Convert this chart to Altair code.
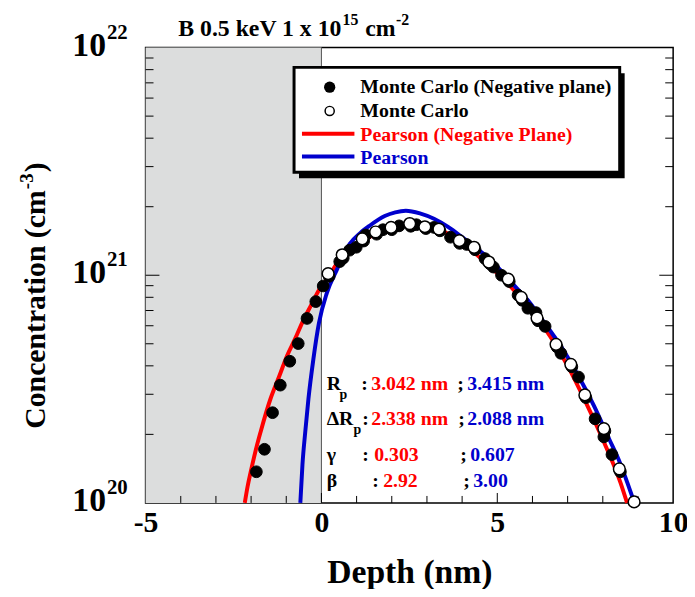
import altair as alt
import pandas as pd

# ---------------- data ----------------
mc_neg_depth = [-1.85, -1.62, -1.39, -1.17, -0.90, -0.66, -0.41, -0.16, 0.05, 0.22,
                0.52, 0.62, 0.80, 0.99, 1.20, 1.26, 1.57, 1.75, 2.00, 2.21,
                2.54, 2.70, 2.97, 3.20, 3.37, 3.67, 3.93, 4.13, 4.37, 4.65,
                4.79, 4.89, 5.12, 5.34, 5.59, 5.71, 5.87, 6.10, 6.16, 6.36,
                6.70, 6.81, 7.12, 7.31, 7.52, 7.78, 8.03, 8.06, 8.26, 8.50]
mc_neg_conc = [1.37e20, 1.72e20, 2.49e20, 3.29e20, 4.19e20, 5.01e20, 6.46e20, 7.66e20, 8.97e20, 9.89e20,
               1.148e21, 1.189e21, 1.288e21, 1.327e21, 1.413e21, 1.503e21, 1.514e21, 1.585e21, 1.585e21, 1.648e21,
               1.641e21, 1.667e21, 1.603e21, 1.622e21, 1.567e21, 1.469e21, 1.380e21, 1.365e21, 1.294e21, 1.183e21,
               1.122e21, 1.086e21, 1.000e21, 9.38e20, 8.18e20, 7.76e20, 7.16e20, 6.85e20, 6.31e20, 5.96e20,
               4.84e20, 4.54e20, 3.96e20, 3.57e20, 2.90e20, 2.34e20, 1.95e20, 2.07e20, 1.63e20, 1.37e20]

mc_depth = [0.19, 0.59, 1.16, 1.54, 1.98, 2.51, 2.94, 3.34, 3.92, 4.34,
            4.76, 5.31, 5.68, 6.13, 6.67, 7.09, 7.49, 8.03, 8.47, 8.89]
mc_conc = [1.016e21, 1.230e21, 1.445e21, 1.549e21, 1.622e21, 1.687e21, 1.633e21, 1.596e21, 1.419e21, 1.327e21,
           1.143e21, 9.62e20, 8.00e20, 6.49e20, 4.97e20, 4.06e20, 2.98e20, 2.12e20, 1.41e20, 1.01e20]

pearson_neg_depth = [-2.18, -2.10, -2.01, -1.87, -1.73, -1.45, -1.20, -0.98, -0.75, -0.51,
                     -0.30, -0.07, 0.20, 0.43, 0.70, 1.00, 1.50, 2.00, 2.50, 3.00,
                     3.50, 4.00, 4.50, 5.00, 5.50, 6.00, 6.50, 7.00, 7.50, 8.00, 8.50, 8.69]
pearson_neg_conc = [1.00e20, 1.18e20, 1.37e20, 1.70e20, 2.05e20, 2.86e20, 3.60e20, 4.42e20, 5.25e20, 6.37e20,
                    7.35e20, 8.61e20, 9.80e20, 1.12e21, 1.23e21, 1.35e21, 1.51e21, 1.62e21, 1.68e21, 1.64e21,
                    1.55e21, 1.38e21, 1.20e21, 1.02e21, 8.5e20, 6.9e20, 5.4e20, 4.0e20, 2.8e20, 1.9e20, 1.23e20, 1.00e20]

pearson_depth = [-0.60, -0.54, -0.46, -0.37, -0.23, -0.07, 0.15, 0.43, 0.80, 1.10,
                 1.37, 1.80, 2.10, 2.40, 2.80, 3.20, 3.60, 4.00, 4.50, 4.93,
                 5.40, 5.87, 6.30, 6.81, 7.30, 7.75, 8.20, 8.45, 8.72, 8.90]
pearson_conc = [1.00e20, 1.47e20, 2.05e20, 2.86e20, 4.27e20, 6.17e20, 8.32e20, 1.05e21, 1.37e21, 1.53e21,
                1.65e21, 1.82e21, 1.89e21, 1.92e21, 1.87e21, 1.77e21, 1.63e21, 1.47e21, 1.28e21, 1.12e21,
                9.3e20, 7.76e20, 6.3e20, 4.87e20, 3.63e20, 2.67e20, 1.88e20, 1.55e20, 1.20e20, 1.00e20]

x_label_values = [-5, 0, 5, 10]
x_minor_ticks = [-4, -3, -2, -1, 1, 2, 3, 4, 6, 7, 8, 9]
x_major_ticks = [0, 5]
y_minor_ticks = [2e20, 3e20, 4e20, 5e20, 6e20, 7e20, 8e20, 9e20,
                 2e21, 3e21, 4e21, 5e21, 6e21, 7e21, 8e21, 9e21]
y_major_ticks = [1e21]
y_label_values = [1e20, 1e21, 1e22]
y_label_base = ["10", "10", "10"]
y_label_exp = ["20", "21", "22"]
shaded_region = [-5, 0]

legend_labels = ["Monte Carlo (Negative plane)", "Monte Carlo", "Pearson (Negative Plane)", "Pearson"]

# ---------------- styling ----------------
W, H = 533, 460
FONT = "Liberation Serif"
RED = "#ff0000"
BLUE = "#0000cd"

xs = alt.Scale(domain=[-5, 10], nice=False, zero=False)
ys = alt.Scale(type="log", domain=[1e20, 1e22], nice=False)
xaxis = alt.Axis(values=x_label_values, ticks=False, domain=False, grid=False,
                 labelExpr="datum.value < 0 ? '-' + toString(-datum.value) : datum.label",
                 labelFont=FONT, labelFontWeight="bold", labelFontSize=30, labelPadding=5,
                 labelColor="black", labelFlush=False, labelOverlap=False, labelBound=False,
                 title="Depth (nm)", titleFont=FONT, titleFontWeight="bold", titleFontSize=34,
                 titlePadding=18, titleColor="black")


def X(field):
    return alt.X(field, type="quantitative", scale=xs, axis=xaxis)


def Y(field):
    return alt.Y(field, type="quantitative", scale=ys, axis=None)


one = pd.DataFrame({"k": [0]})


def txt(s, x, y, size=20, color="black", align="left", baseline="middle", angle=0):
    return alt.Chart(one).mark_text(
        text=s, font=FONT, fontWeight="bold", fontSize=size, color=color,
        align=align, baseline=baseline, angle=angle
    ).encode(x=alt.value(x), y=alt.value(y))


layers = []

# shaded negative-depth region and zero line
layers.append(alt.Chart(pd.DataFrame({"x0": [shaded_region[0]], "x1": [shaded_region[1]]}))
              .mark_rect(color="#dcdddd")
              .encode(x=X("x0"), x2="x1:Q", y=alt.value(0), y2=alt.value(H)))
layers.append(alt.Chart(pd.DataFrame({"x": [shaded_region[1]]}))
              .mark_rule(color="#555555", strokeWidth=1)
              .encode(x=X("x"), y=alt.value(0), y2=alt.value(H)))

# inward ticks
xmin = pd.DataFrame({"v": x_minor_ticks})
xmaj = pd.DataFrame({"v": x_major_ticks})
ymin = pd.DataFrame({"v": y_minor_ticks})
ymaj = pd.DataFrame({"v": y_major_ticks})
layers.append(alt.Chart(xmin).mark_rule(color="black", strokeWidth=1)
              .encode(x=X("v"), y=alt.value(H), y2=alt.value(H - 7)))
layers.append(alt.Chart(xmaj).mark_rule(color="black", strokeWidth=1)
              .encode(x=X("v"), y=alt.value(H), y2=alt.value(H - 10)))
layers.append(alt.Chart(ymin).mark_rule(color="black", strokeWidth=1)
              .encode(y=Y("v"), x=alt.value(0), x2=alt.value(8)))
layers.append(alt.Chart(ymaj).mark_rule(color="black", strokeWidth=1)
              .encode(y=Y("v"), x=alt.value(0), x2=alt.value(14)))
layers.append(alt.Chart(ymin).mark_rule(color="black", strokeWidth=1)
              .encode(y=Y("v"), x=alt.value(W), x2=alt.value(W - 8)))
layers.append(alt.Chart(ymaj).mark_rule(color="black", strokeWidth=1)
              .encode(y=Y("v"), x=alt.value(W), x2=alt.value(W - 14)))

# y tick labels (10 with superscript exponent)
ylab = pd.DataFrame({"v": y_label_values, "b": y_label_base, "e": y_label_exp})
layers.append(alt.Chart(ylab).mark_text(font=FONT, fontWeight="bold", fontSize=34, color="black",
                                        align="right", baseline="middle", dy=-2)
              .encode(y=Y("v"), x=alt.value(-40), text="b:N"))
layers.append(alt.Chart(ylab).mark_text(font=FONT, fontWeight="bold", fontSize=21, color="black",
                                        align="left", baseline="middle", dy=-15)
              .encode(y=Y("v"), x=alt.value(-39), text="e:N"))

# curves
layers.append(alt.Chart(pd.DataFrame({"x": pearson_neg_depth, "c": pearson_neg_conc}))
              .mark_line(color=RED, strokeWidth=4, interpolate="monotone")
              .encode(x=X("x"), y=Y("c")))
layers.append(alt.Chart(pd.DataFrame({"x": pearson_depth, "c": pearson_conc}))
              .mark_line(color=BLUE, strokeWidth=4, interpolate="monotone")
              .encode(x=X("x"), y=Y("c")))

# Monte Carlo points
layers.append(alt.Chart(pd.DataFrame({"x": mc_neg_depth, "c": mc_neg_conc}))
              .mark_point(shape="circle", filled=True, fill="black", stroke="black", strokeWidth=1,
                          size=140, opacity=1)
              .encode(x=X("x"), y=Y("c")))
layers.append(alt.Chart(pd.DataFrame({"x": mc_depth, "c": mc_conc}))
              .mark_point(shape="circle", filled=True, fill="white", stroke="black", strokeWidth=1.5,
                          size=140, opacity=1)
              .encode(x=X("x"), y=Y("c")))

# legend box with drop shadow
layers.append(alt.Chart(one).mark_rect(color="black")
              .encode(x=alt.value(155), x2=alt.value(484), y=alt.value(26), y2=alt.value(132)))
layers.append(alt.Chart(one).mark_rect(fill="white", stroke="black", strokeWidth=3)
              .encode(x=alt.value(150), x2=alt.value(479), y=alt.value(20), y2=alt.value(126)))
layers.append(alt.Chart(one).mark_point(shape="circle", filled=True, fill="black", size=130, opacity=1)
              .encode(x=alt.value(186), y=alt.value(40)))
layers.append(alt.Chart(one).mark_point(shape="circle", filled=True, fill="white", stroke="black",
                                        strokeWidth=1.5, size=85, opacity=1)
              .encode(x=alt.value(186), y=alt.value(64)))
layers.append(alt.Chart(one).mark_rule(color=RED, strokeWidth=4)
              .encode(x=alt.value(158), x2=alt.value(211), y=alt.value(87)))
layers.append(alt.Chart(one).mark_rule(color=BLUE, strokeWidth=4)
              .encode(x=alt.value(158), x2=alt.value(211), y=alt.value(110)))
layers.append(txt(legend_labels[0], 217, 40))
layers.append(txt(legend_labels[1], 217, 64))
layers.append(txt(legend_labels[2], 217, 88, color=RED))
layers.append(txt(legend_labels[3], 217, 112, color=BLUE))

# parameter annotations
rows = [
    # (symbol, sub_x, colon_x, red_text, red_x, semi_x, blue_text, blue_x, y)
    ("R", 196, 218, "3.042 nm", 228, 315, "3.415 nm", 325, 340),
    ("ΔR", 210, 219, "2.338 nm", 228, 316, "2.088 nm", 325, 375),
    ("γ", None, 219, "0.303", 231, 318, "0.607", 328, 412),
    ("β", None, 229, "2.92", 240, 321, "3.00", 331, 438),
]
for sym, subx, cx, rt, rx, sx, bt, bx, yy in rows:
    layers.append(txt(sym, 183, yy))
    if subx is not None:
        layers.append(txt("p", subx, yy + 11, size=14))
    layers.append(txt(":", cx, yy))
    layers.append(txt(rt, rx, yy, color=RED))
    layers.append(txt(";", sx, yy))
    layers.append(txt(bt, bx, yy, color=BLUE))

# chart title with superscripts
layers.append(txt("B 0.5 keV 1 x 10", 33, -12, size=24, baseline="alphabetic"))
layers.append(txt("15", 199, -23, size=16, baseline="alphabetic"))
layers.append(txt("cm", 222, -12, size=24, baseline="alphabetic"))
layers.append(txt("-2", 253, -23, size=16, baseline="alphabetic"))

# y-axis title (rotated, with superscript)
ystart = 385
layers.append(txt("Concentration (cm", -102, ystart, size=30, baseline="alphabetic", angle=270))
layers.append(txt("-3", -114, ystart - 242, size=19, baseline="alphabetic", angle=270))
layers.append(txt(")", -102, ystart - 259, size=30, baseline="alphabetic", angle=270))

chart = alt.layer(*layers).properties(
    width=W, height=H,
    autosize=alt.AutoSizeParams(type="none"),
    padding={"left": 139, "top": 37, "right": 14, "bottom": 84},
    background="white",
).configure_view(stroke="black", strokeWidth=1.5)

chart.save("out.html", embed_options={"renderer": "svg", "actions": False})
